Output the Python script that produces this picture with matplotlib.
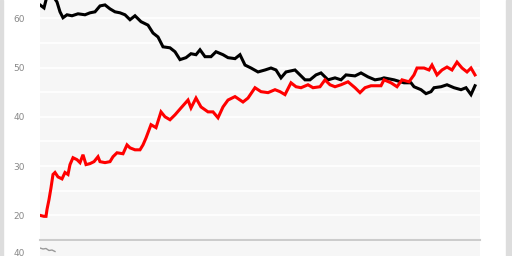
import numpy as np
import matplotlib
matplotlib.use("Agg")
import matplotlib.pyplot as plt

# posição ao longo do período (amostras) e valores
black_x = [0, 4, 7, 12, 17, 20, 23, 27, 32, 38, 45, 50, 55, 60, 65, 70, 75, 80, 85, 90,
           95, 101, 108, 113, 118, 123, 130, 135, 140, 146, 151, 156, 160, 165, 171, 176,
           183, 188, 195, 200, 205, 211, 218, 225, 231, 236, 241, 246, 255, 260, 265, 270,
           276, 281, 288, 295, 301, 306, 315, 321, 328, 335, 341, 344, 354, 364, 371, 374,
           381, 386, 391, 394, 401, 407, 414, 421, 426, 431, 435]
black_y = [62.7, 62.1, 64.5, 64.8, 63.3, 61.3, 60.1, 60.7, 60.5, 60.9, 60.7, 61.1, 61.3,
           62.5, 62.7, 61.9, 61.3, 61.1, 60.7, 59.7, 60.5, 59.3, 58.6, 57.0, 56.2, 54.2,
           54.0, 53.2, 51.6, 52.0, 52.8, 52.6, 53.6, 52.2, 52.2, 53.2, 52.6, 52.0, 51.8,
           52.6, 50.5, 49.9, 49.1, 49.5, 49.9, 49.5, 47.9, 49.1, 49.5, 48.5, 47.5, 47.5,
           48.5, 48.9, 47.5, 47.9, 47.5, 48.5, 48.3, 48.9, 48.1, 47.5, 47.7, 47.9, 47.5,
           46.9, 46.9, 46.1, 45.5, 44.7, 45.1, 45.9, 46.1, 46.5, 45.9, 45.5, 45.9, 44.5,
           46.3]

red_x = [0, 4, 6, 7, 9, 11, 13, 15, 18, 22, 25, 28, 30, 33, 37, 40, 43, 46, 50, 54, 58,
         60, 65, 70, 73, 77, 83, 87, 90, 95, 100, 103, 106, 111, 116, 121, 125, 130, 135,
         141, 148, 151, 156, 161, 168, 173, 178, 183, 188, 195, 203, 208, 215, 221, 228,
         235, 240, 245, 251, 256, 261, 268, 273, 280, 285, 290, 295, 301, 308, 315, 320,
         325, 331, 341, 344, 351, 357, 362, 369, 374, 377, 384, 389, 392, 397, 402, 407,
         412, 417, 422, 427, 431, 435]
red_y = [20.0, 19.8, 19.8, 21.2, 23.2, 25.6, 28.3, 28.7, 27.8, 27.4, 28.7, 28.3, 30.3,
         31.7, 31.3, 30.7, 32.3, 30.3, 30.5, 30.9, 31.9, 30.9, 30.7, 30.9, 31.9, 32.7,
         32.5, 34.3, 33.7, 33.3, 33.3, 34.3, 35.7, 38.4, 37.8, 41.0, 40.0, 39.4, 40.4,
         41.8, 43.4, 41.8, 43.8, 42.0, 41.0, 41.0, 39.8, 42.0, 43.4, 44.1, 43.0, 43.8,
         45.9, 45.1, 44.9, 45.5, 45.1, 44.5, 46.9, 46.1, 45.9, 46.5, 45.9, 46.1, 47.5,
         46.5, 46.1, 46.5, 47.1, 45.9, 44.9, 45.9, 46.3, 46.3, 47.5, 46.9, 46.1, 47.5,
         47.1, 48.5, 49.9, 49.9, 49.5, 50.5, 48.5, 49.5, 50.1, 49.5, 51.1, 49.9, 49.1,
         49.9, 48.5]

nav_x = [0, 3, 6, 9, 12, 15]
nav_y = [41.0, 40.8, 40.9, 40.5, 40.6, 40.3]

main_ticks = [20, 30, 40, 50, 60]
grid_ticks = [20, 25, 30, 35, 40, 45, 50, 55, 60]

BG = "#f6f6f6"
LABEL = "#888888"

fig = plt.figure(figsize=(5.12, 2.56), dpi=100)
fig.patch.set_facecolor("white")

# faixas cinzas laterais
fig.patches.append(plt.Rectangle((0, 0), 3 / 512, 1, transform=fig.transFigure,
                                 color="#dddddd", zorder=0))
fig.patches.append(plt.Rectangle((506 / 512, 0), 6 / 512, 1, transform=fig.transFigure,
                                 color="#dddddd", zorder=0))

ax = fig.add_axes([40 / 512, 16 / 256, 440 / 512, 240 / 256])
ax.set_facecolor(BG)
ax.set_xlim(0, 440)
ax.set_ylim(15, 63.7)
for g in grid_ticks:
    ax.axhline(g, color="white", lw=1.2, zorder=1)
ax.plot(black_x, black_y, color="black", lw=2.2, zorder=3, solid_joinstyle="miter")
ax.plot(red_x, red_y, color="#ff0000", lw=2.2, zorder=3, solid_joinstyle="miter")
ax.set_yticks(main_ticks)
ax.set_yticklabels([str(t) for t in main_ticks])
ax.tick_params(axis="y", length=0, pad=11, labelsize=6.5, labelcolor=LABEL)
ax.set_xticks([])
for s in ["top", "left", "right"]:
    ax.spines[s].set_visible(False)
ax.spines["bottom"].set_color("#cccccc")
ax.spines["bottom"].set_linewidth(1.5)

# início do gráfico de baixo
ax2 = fig.add_axes([40 / 512, 0, 440 / 512, 15 / 256])
ax2.set_facecolor(BG)
ax2.set_xlim(0, 440)
ax2.set_ylim(39.4, 42.4)
ax2.plot(nav_x, nav_y, color="#999999", lw=1.0)
ax2.set_yticks([40])
ax2.set_yticklabels(["40"])
ax2.tick_params(axis="y", length=0, pad=11, labelsize=6.5, labelcolor=LABEL)
ax2.set_xticks([])
for s in ax2.spines.values():
    s.set_visible(False)

plt.savefig("out.png", dpi=100)
